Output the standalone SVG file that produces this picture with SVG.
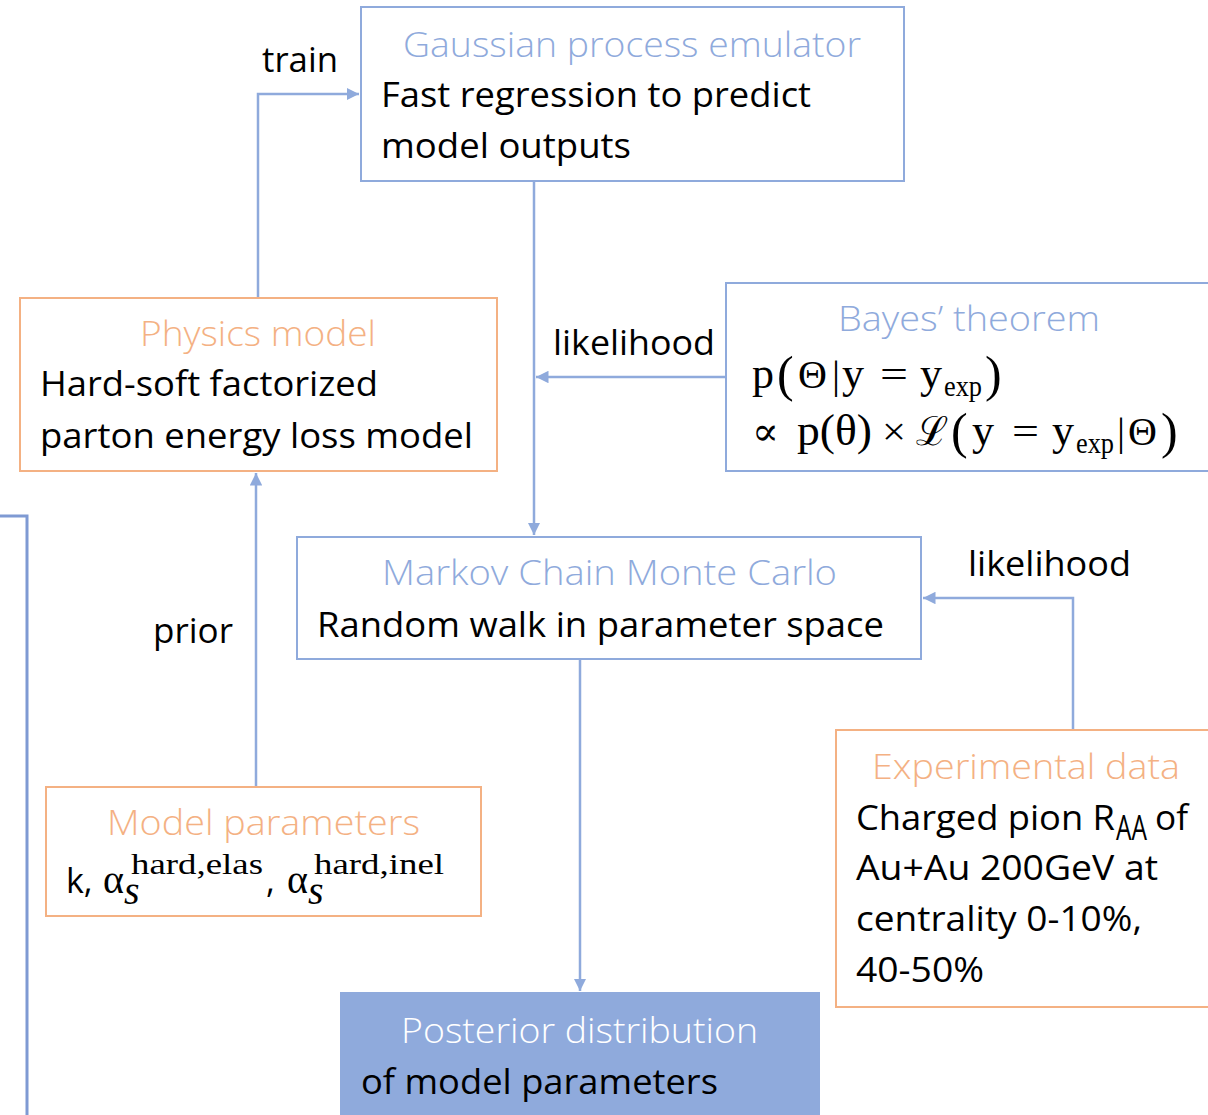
<svg xmlns="http://www.w3.org/2000/svg" width="1208" height="1115" viewBox="0 0 1208 1115">
<defs>
<marker id="ah" viewBox="0 0 10 10" refX="10" refY="5" markerWidth="5" markerHeight="5" markerUnits="strokeWidth" orient="auto">
<path d="M0,0 L10,5 L0,10 z" fill="#8FAADC"/>
</marker>
<style>
.bb{fill:#fff;stroke:#8FAADC;stroke-width:2}
.ob{fill:#fff;stroke:#F4B183;stroke-width:2}
.t{font-family:"Open Sans","Noto Sans",sans-serif;font-size:34px;fill:#000}
.tb{font-family:"Open Sans","Noto Sans",sans-serif;font-size:34px;fill:#8FAADC;font-weight:300}
.to{font-family:"Open Sans","Noto Sans",sans-serif;font-size:34px;fill:#F4B183;font-weight:300}
.tw{font-family:"Open Sans","Noto Sans",sans-serif;font-size:34px;fill:#fff;font-weight:300}
.m{font-family:"Liberation Serif","DejaVu Serif",serif;font-size:40px;fill:#000}
.my{font-family:"Liberation Serif","DejaVu Serif",serif;font-size:44px;fill:#000}
.ms{font-family:"Liberation Serif","DejaVu Serif",serif;font-size:29px;fill:#000}
.mp{font-family:"Liberation Serif","DejaVu Serif",serif;font-size:50px;fill:#000}
.c{fill:none;stroke:#8FAADC;stroke-width:2.5}
</style>
</defs>
<rect width="1208" height="1115" fill="#fff"/>
<g id="connectors">
<path class="c" d="M258,298 V94 H359" marker-end="url(#ah)"/>
<path class="c" d="M534,181 V535" marker-end="url(#ah)"/>
<path class="c" d="M726,377 H536" marker-end="url(#ah)"/>
<path class="c" d="M256,787 V473" marker-end="url(#ah)"/>
<path class="c" d="M580,659 V991" marker-end="url(#ah)"/>
<path class="c" d="M1073,730 V598 H923" marker-end="url(#ah)"/>
<path d="M0,516 H27 V1115" fill="none" stroke="#7F9AD3" stroke-width="3"/>
<text class="t" x="262" y="72" textLength="76" lengthAdjust="spacingAndGlyphs">train</text>
<text class="t" x="553" y="355" textLength="162" lengthAdjust="spacingAndGlyphs">likelihood</text>
<text class="t" x="153" y="643" textLength="80" lengthAdjust="spacingAndGlyphs">prior</text>
<text class="t" x="968" y="576" textLength="163" lengthAdjust="spacingAndGlyphs">likelihood</text>
</g>
<g id="gp">
<rect class="bb" x="361" y="7" width="543" height="174"/>
<text class="tb" x="403" y="57" textLength="458" lengthAdjust="spacingAndGlyphs">Gaussian process emulator</text>
<text class="t" x="381" y="107" textLength="430" lengthAdjust="spacingAndGlyphs">Fast regression to predict</text>
<text class="t" x="381" y="158" textLength="250" lengthAdjust="spacingAndGlyphs">model outputs</text>
</g>
<g id="physics">
<rect class="ob" x="20" y="298" width="477" height="173"/>
<text class="to" x="140" y="346" textLength="236" lengthAdjust="spacingAndGlyphs">Physics model</text>
<text class="t" x="40" y="396" textLength="338" lengthAdjust="spacingAndGlyphs">Hard-soft factorized</text>
<text class="t" x="40" y="448" textLength="433" lengthAdjust="spacingAndGlyphs">parton energy loss model</text>
</g>
<g id="bayes">
<rect class="bb" x="726" y="283" width="490" height="188"/>
<text class="tb" x="838" y="331" textLength="262" lengthAdjust="spacingAndGlyphs">Bayes’ theorem</text>
<text class="my" x="752" y="388">p</text>
<text class="mp" x="777" y="391">(</text>
<text class="m" x="798" y="388">Θ</text>
<text class="m" x="832" y="388">|</text>
<text class="my" x="842" y="388">y</text>
<text class="m" x="880" y="388" textLength="28" lengthAdjust="spacingAndGlyphs">=</text>
<text class="my" x="920" y="388">y</text>
<text class="ms" x="944" y="396" textLength="38" lengthAdjust="spacingAndGlyphs">exp</text>
<text class="mp" x="985" y="391">)</text>
<text class="m" x="752" y="445" textLength="27" lengthAdjust="spacingAndGlyphs">∝</text>
<text class="my" x="797" y="445" textLength="75" lengthAdjust="spacingAndGlyphs">p(θ)</text>
<text class="m" x="882" y="445" textLength="24" lengthAdjust="spacingAndGlyphs">×</text>
<text class="m" x="916" y="445" font-family="DejaVu Serif" textLength="32" lengthAdjust="spacingAndGlyphs">ℒ</text>
<text class="mp" x="951" y="448">(</text>
<text class="my" x="972" y="445">y</text>
<text class="m" x="1012" y="445" textLength="27" lengthAdjust="spacingAndGlyphs">=</text>
<text class="my" x="1052" y="445">y</text>
<text class="ms" x="1076" y="453" textLength="38" lengthAdjust="spacingAndGlyphs">exp</text>
<text class="m" x="1117" y="445">|</text>
<text class="m" x="1128" y="445">Θ</text>
<text class="mp" x="1161" y="448">)</text>
</g>
<g id="mcmc">
<rect class="bb" x="297" y="537" width="624" height="122"/>
<text class="tb" x="382" y="585" textLength="455" lengthAdjust="spacingAndGlyphs">Markov Chain Monte Carlo</text>
<text class="t" x="317" y="637" textLength="567" lengthAdjust="spacingAndGlyphs">Random walk in parameter space</text>
</g>
<g id="params">
<rect class="ob" x="46" y="787" width="435" height="129"/>
<text class="to" x="107" y="835" textLength="313" lengthAdjust="spacingAndGlyphs">Model parameters</text>
<text class="t" x="66" y="893">k,</text>
<text class="m" x="103" y="893" font-size="40">α</text>
<text class="m" x="124" y="904" font-size="30" font-style="italic">s</text>
<text class="ms" x="131" y="874" textLength="132" lengthAdjust="spacingAndGlyphs">hard,elas</text>
<text class="t" x="266" y="893">,</text>
<text class="m" x="287" y="893" font-size="40">α</text>
<text class="m" x="308" y="904" font-size="30" font-style="italic">s</text>
<text class="ms" x="314" y="874" textLength="130" lengthAdjust="spacingAndGlyphs">hard,inel</text>
</g>
<g id="expdata">
<rect class="ob" x="836" y="730" width="380" height="277"/>
<text class="to" x="872" y="779" textLength="308" lengthAdjust="spacingAndGlyphs">Experimental data</text>
<text class="t" x="856" y="830" textLength="259" lengthAdjust="spacingAndGlyphs">Charged pion R</text>
<text class="t" x="1116" y="840" font-size="22" textLength="31" lengthAdjust="spacingAndGlyphs">AA</text>
<text class="t" x="1155" y="830" textLength="33" lengthAdjust="spacingAndGlyphs">of</text>
<text class="t" x="856" y="880" textLength="302" lengthAdjust="spacingAndGlyphs">Au+Au 200GeV at</text>
<text class="t" x="856" y="931" textLength="286" lengthAdjust="spacingAndGlyphs">centrality 0-10%,</text>
<text class="t" x="856" y="982" textLength="128" lengthAdjust="spacingAndGlyphs">40-50%</text>
</g>
<g id="posterior">
<rect x="341" y="993" width="478" height="130" fill="#8FAADC" stroke="#8FAADC" stroke-width="2"/>
<text class="tw" x="401" y="1043" textLength="357" lengthAdjust="spacingAndGlyphs">Posterior distribution</text>
<text class="t" x="361" y="1094" textLength="357" lengthAdjust="spacingAndGlyphs">of model parameters</text>
</g>
</svg>
